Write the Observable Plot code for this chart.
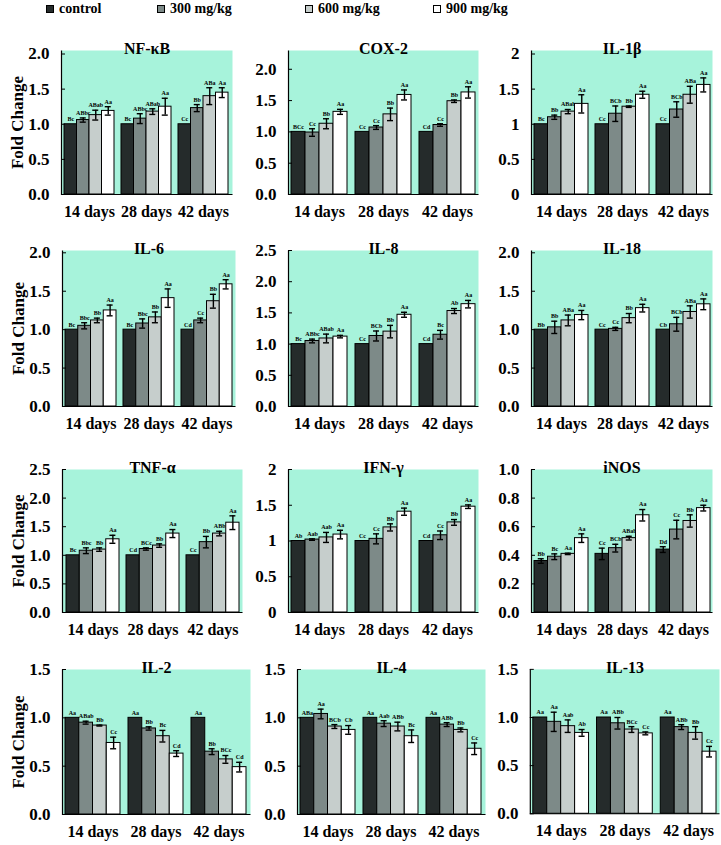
<!DOCTYPE html>
<html><head><meta charset="utf-8">
<script src="https://cdn.jsdelivr.net/npm/d3@7"></script>
<script src="https://cdn.jsdelivr.net/npm/@observablehq/plot@0.6"></script>
<style>
body{margin:0;background:#fff;}
#chart{position:relative;width:721px;height:845px;font-family:"Liberation Serif",serif;overflow:hidden;}
.lg{position:absolute;top:0;height:16px;display:flex;align-items:center;font-weight:bold;font-size:14px;color:#000;white-space:nowrap;}
.sw{width:6px;height:6px;border:1px solid #000;margin-right:5px;box-sizing:content-box;}
.panel{position:absolute;}
</style></head><body><div id="chart"></div>
<script>
// ---- data ----
const days = ["14 days", "28 days", "42 days"];
const doses = ["control", "300 mg/kg", "600 mg/kg", "900 mg/kg"];
const doseColors = ["#252b2b", "#7d8a88", "#c6cecc", "#ffffff"];
const panelNames = ["NF-κB", "COX-2", "IL-1β", "IL-6", "IL-8", "IL-18", "TNF-α", "IFN-γ", "iNOS", "IL-2", "IL-4", "IL-13"];
const yMax = [2.05, 2.3, 2.05, 2.03, 2.5, 2.03, 2.5, 2.0, 1.0, 1.5, 1.5, 1.5];
const yTicks = [
  [0, 0.5, 1, 1.5, 2], [0, 0.5, 1, 1.5, 2], [0, 0.5, 1, 1.5, 2],
  [0, 0.5, 1, 1.5, 2], [0, 0.5, 1, 1.5, 2, 2.5], [0, 0.5, 1, 1.5, 2],
  [0, 0.5, 1, 1.5, 2, 2.5], [0, 0.5, 1, 1.5, 2], [0, 0.2, 0.4, 0.6, 0.8, 1.0],
  [0, 0.5, 1, 1.5], [0, 0.5, 1, 1.5], [0, 0.5, 1, 1.5]
];
const yTickFormat = [".1f", ".1f", "", ".1f", ".1f", ".1f", ".1f", "", ".1f", ".1f", ".1f", ".1f"];
// values ordered: 14 days (control, 300, 600, 900), 28 days (...), 42 days (...)
const means = [
  [1, 1.06, 1.13, 1.19, 1, 1.08, 1.18, 1.25, 1, 1.23, 1.40, 1.45],
  [1, 0.99, 1.13, 1.32, 1, 1.07, 1.28, 1.59, 1, 1.11, 1.49, 1.63],
  [1, 1.10, 1.18, 1.29, 1, 1.15, 1.25, 1.42, 1, 1.21, 1.42, 1.56],
  [1, 1.05, 1.12, 1.25, 1, 1.08, 1.16, 1.41, 1, 1.12, 1.37, 1.59],
  [1, 1.05, 1.09, 1.12, 1, 1.13, 1.20, 1.47, 1, 1.15, 1.53, 1.64],
  [1, 1.03, 1.12, 1.19, 1, 1.01, 1.15, 1.28, 1, 1.07, 1.23, 1.33],
  [1, 1.08, 1.10, 1.28, 1, 1.11, 1.17, 1.38, 1, 1.23, 1.38, 1.57],
  [1, 1.02, 1.05, 1.09, 1, 1.03, 1.19, 1.41, 1, 1.08, 1.26, 1.48],
  [0.36, 0.39, 0.41, 0.52, 0.41, 0.45, 0.52, 0.68, 0.44, 0.58, 0.64, 0.73],
  [1, 0.95, 0.92, 0.74, 1, 0.89, 0.81, 0.63, 1, 0.65, 0.57, 0.49],
  [1, 1.04, 0.91, 0.875, 1, 0.94, 0.91, 0.81, 1, 0.93, 0.875, 0.68],
  [1, 0.955, 0.91, 0.84, 1, 0.94, 0.875, 0.835, 1, 0.90, 0.84, 0.645]
];
const errors = [
  [0, 0.03, 0.07, 0.06, 0, 0.07, 0.04, 0.12, 0, 0.05, 0.12, 0.07],
  [0, 0.06, 0.08, 0.04, 0, 0.03, 0.10, 0.08, 0, 0.02, 0.02, 0.09],
  [0, 0.03, 0.03, 0.13, 0, 0.11, 0.01, 0.05, 0, 0.11, 0.12, 0.10],
  [0, 0.04, 0.03, 0.07, 0, 0.06, 0.07, 0.12, 0, 0.03, 0.09, 0.06],
  [0, 0.03, 0.07, 0.02, 0, 0.08, 0.10, 0.04, 0, 0.07, 0.04, 0.06],
  [0, 0.08, 0.07, 0.06, 0, 0.02, 0.06, 0.05, 0, 0.09, 0.08, 0.07],
  [0, 0.05, 0.03, 0.07, 0, 0.02, 0.03, 0.07, 0, 0.10, 0.04, 0.12],
  [0, 0.01, 0.07, 0.06, 0, 0.07, 0.05, 0.05, 0, 0.06, 0.04, 0.025],
  [0.016, 0.02, 0.005, 0.03, 0.04, 0.027, 0.013, 0.04, 0.02, 0.065, 0.043, 0.02],
  [0, 0.015, 0.005, 0.06, 0, 0.017, 0.06, 0.03, 0, 0.03, 0.04, 0.05],
  [0, 0.05, 0.02, 0.045, 0, 0.03, 0.045, 0.065, 0, 0.02, 0.02, 0.06],
  [0, 0.1, 0.065, 0.035, 0, 0.06, 0.03, 0.015, 0, 0.025, 0.065, 0.055]
];
const letters = [
  ["Bc", "ABbc", "ABab", "Aa", "Bc", "ABbc", "ABab", "Aa", "Cc", "Bb", "ABa", "Aa"],
  ["BCc", "Cc", "Bb", "Aa", "Cc", "Cc", "Bb", "Aa", "Cd", "Cc", "Bb", "Aa"],
  ["Bc", "Bb", "ABab", "Aa", "Cc", "BCb", "Bb", "Aa", "Cc", "BCb", "ABa", "Aa"],
  ["Bc", "Bbc", "Bb", "Aa", "Bc", "Bbc", "Bb", "Aa", "Cd", "Cc", "Bb", "Aa"],
  ["Bc", "ABbc", "ABab", "Aa", "Cc", "BCb", "Bb", "Aa", "Cd", "Bc", "Ab", "Aa"],
  ["Bb", "Bb", "ABa", "Aa", "Cc", "Cc", "Bb", "Aa", "Cb", "BCb", "ABa", "Aa"],
  ["Bc", "Bbc", "Bb", "Aa", "Cd", "BCc", "Bb", "Aa", "Cc", "Bb", "ABb", "Aa"],
  ["Ab", "Aab", "Aab", "Aa", "Cc", "Cc", "Bb", "Aa", "Cd", "Cc", "Bb", "Aa"],
  ["Bb", "Bc", "Aa", "Aa", "Cc", "BCb", "ABab", "Aa", "Dd", "Cc", "Bb", "Aa"],
  ["Aa", "ABab", "Bb", "Cc", "Aa", "Bb", "Bc", "Cd", "Aa", "Bb", "BCc", "Cd"],
  ["ABa", "Aa", "BCb", "Cb", "Aa", "Aab", "ABb", "Bc", "Aa", "ABb", "Bb", "Cc"],
  ["Aa", "Aa", "Aab", "Ab", "Aa", "ABb", "BCc", "Cc", "Aa", "ABb", "Bb", "Cc"]
];

// ---- layout (pixels) ----
const rowY = [[50, 194], [250, 406], [469, 612], [669, 814]];
const colX = [
  [[61, 232], [288, 478], [531, 712]],
  [[62, 235], [288, 478], [531, 712]],
  [[62, 242], [288, 478], [531, 712]],
  [[62, 250], [297, 485], [530, 720]]
];
const mint = "#a7f3db";
const font = "'Liberation Serif','Times New Roman',serif";
const chart = document.getElementById("chart");

// legend
const legendX = [46, 157, 305, 433];
doses.forEach((d, i) => {
  const el = document.createElement("div");
  el.className = "lg";
  el.style.left = legendX[i] + "px";
  el.style.top = "1px";
  el.innerHTML = `<span class="sw" style="background:${doseColors[i]}"></span>${d}`;
  chart.appendChild(el);
});

panelNames.forEach((name, p) => {
  const r = Math.floor(p / 3), c = p % 3;
  const [x0, x1] = colX[r][c];
  const [y0, y1] = rowY[r];
  const mL = c === 0 ? 62 : 48, mR = 2, mT = 30, mB = 32;
  const width = (x1 - x0) + mL + mR;
  const height = (y1 - y0) + mT + mB;
  const pw = x1 - x0, ph = y1 - y0;
  const rows = means[p].map((m, k) => ({
    day: days[Math.floor(k / 4)], dose: k % 4, mean: m, err: errors[p][k], sig: letters[p][k]
  }));
  const xOpts = {domain: days, paddingInner: 0.12, paddingOuter: 0.04};
  const yOpts = {domain: [0, yMax[p]]};
  const probe = Plot.plot({width, height, marginLeft: mL, marginRight: mR, marginTop: mT, marginBottom: mB,
    x: xOpts, y: yOpts, marks: [Plot.barY(rows, {x: "day", y: "mean"})]});
  const bw = probe.scale("x").bandwidth;
  const q = bw / 4;
  const cap = 6;
  const fmt = yTickFormat[p] ? d3.format(yTickFormat[p]) : (d => String(d));
  const marks = [
    Plot.frame({fill: mint, stroke: null}),
  ];
  for (let i = 0; i < 4; i++) {
    const rs = rows.filter(d => d.dose === i);
    const re = rs.filter(d => d.err > 0);
    marks.push(Plot.barY(rs, {x: "day", y: "mean", fill: doseColors[i], stroke: "#000", strokeWidth: 1,
      insetLeft: i * q, insetRight: (3 - i) * q}));
    marks.push(Plot.ruleX(re, {x: "day", y1: d => d.mean - d.err, y2: d => d.mean + d.err,
      dx: (i - 1.5) * q, stroke: "#000", strokeWidth: 1.4}));
    for (const sgn of [1, -1]) {
      marks.push(Plot.tickY(re, {x: "day", y: d => d.mean + sgn * d.err, stroke: "#000", strokeWidth: 1.4,
        insetLeft: i * q + (q - cap) / 2, insetRight: (3 - i) * q + (q - cap) / 2}));
    }
    marks.push(Plot.text(rs, {x: "day", y: d => d.mean + d.err, text: "sig", dx: (i - 1.5) * q, dy: -5,
      fontSize: 6, fontWeight: "bold", fill: "#000"}));
  }
  marks.push(Plot.frame({stroke: "#000", strokeWidth: 1.2, fill: "none",
    strokeDasharray: `0 ${pw + ph} ${pw + ph} 0`}));
  marks.push(Plot.tickY(yTicks[p], {y: d => d, stroke: "#000", insetRight: pw - 4}));
  marks.push(Plot.axisY(yTicks[p], {tickSize: 0, tickPadding: 12, tickFormat: fmt, fontSize: 17, fontWeight: "bold", label: null}));
  marks.push(Plot.axisX({tickSize: 0, tickPadding: 11, fontSize: 16, fontWeight: "bold", label: null}));
  marks.push(Plot.text([name], {frameAnchor: "top", dy: -8, fontSize: 16, fontWeight: "bold", text: d => d}));
  if (c === 0) {
    marks.push(Plot.text(["Fold Change"], {frameAnchor: "left", textAnchor: "middle", dx: -44, rotate: -90,
      fontSize: 17, fontWeight: "bold", text: d => d}));
  }
  const svg = Plot.plot({
    width, height, marginLeft: mL, marginRight: mR, marginTop: mT, marginBottom: mB,
    x: xOpts, y: yOpts,
    style: {fontFamily: font, background: "transparent", color: "#000", overflow: "visible"},
    marks
  });
  const holder = document.createElement("div");
  holder.className = "panel";
  holder.style.left = (x0 - mL) + "px";
  holder.style.top = (y0 - mT) + "px";
  holder.appendChild(svg);
  chart.appendChild(holder);
});
</script></body></html>
